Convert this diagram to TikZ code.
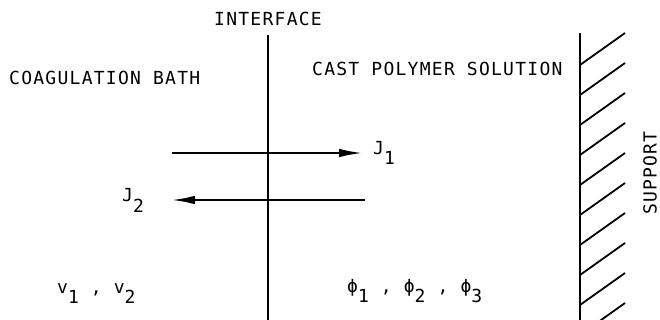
\documentclass[tikz,border=0pt]{standalone}
\usepackage{fontspec}
\newfontfamily\lblfont[LetterSpace=7]{DejaVu Sans Mono}
\usetikzlibrary{arrows.meta,positioning}
\newcommand{\lowsub}[2]{#1\raisebox{-10pt}{#2}}
\tikzset{
  lbl/.style={font=\lblfont\fontsize{18}{21}\selectfont, inner sep=0pt},
  wall/.style={line width=1.8pt},
  flux/.style={line width=1.8pt, -{Latex[length=23pt,width=8.5pt]}}
}

\begin{document}
\begin{tikzpicture}[x=1pt,y=-1pt]
\useasboundingbox (0,0) rectangle (660,320);
% Headers
\node[lbl] (iface) at (268,19) {INTERFACE};
\node[lbl,anchor=west] (bath) at (9,78) {COAGULATION BATH};
\node[lbl,anchor=west] (cast) at (312,69) {CAST POLYMER SOLUTION};
\node[lbl,rotate=90] (supp) at (650,173) {SUPPORT};

% Interface and support wall
\coordinate (itop) at (268,35); \coordinate (ibot) at (268,320);
\draw[wall] (itop) -- (ibot);
\coordinate (stop) at (580,33); \coordinate (sbot) at (580,320);
\draw[wall] (stop) -- (sbot);
\begin{scope}
\clip (0,0) rectangle (660,320);
\foreach \y in {65,95,...,335} \draw[wall] (580,\y) -- ++(45,-32);
\end{scope}

% Fluxes
\coordinate (j1a) at (172,153); \coordinate (j1b) at (362,153);
\draw[flux] (j1a) -- (j1b);
\node[lbl,anchor=base west] (J1) at (373,155) {\lowsub{J}{1}};
\coordinate (j2a) at (365,200); \coordinate (j2b) at (172,200);
\draw[flux] (j2a) -- (j2b);
\node[lbl,anchor=base west] (J2) at (122,202) {\lowsub{J}{2}};

% Composition variables
\node[lbl,anchor=base west] (vbath) at (57,293) {\lowsub{v}{1} , \lowsub{v}{2}};
\node[lbl,anchor=base west] (phicast) at (347,292) {\lowsub{ϕ}{1} , \lowsub{ϕ}{2} , \lowsub{ϕ}{3}};
\end{tikzpicture}
\end{document}
